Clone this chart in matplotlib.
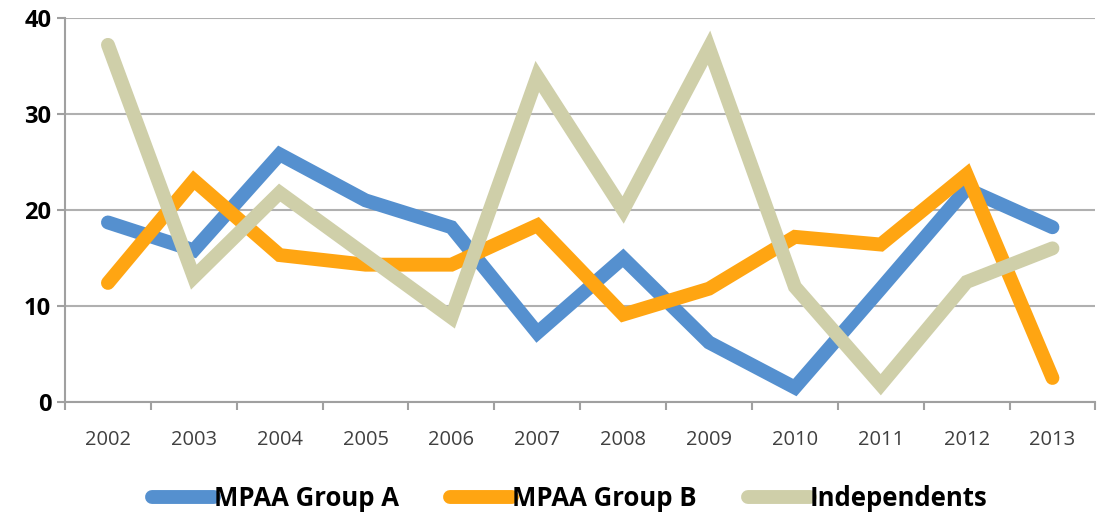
import matplotlib.pyplot as plt
from matplotlib.ticker import NullFormatter

years = ['2002', '2003', '2004', '2005', '2006', '2007', '2008', '2009', '2010', '2011', '2012', '2013']
group_a = [18.7, 15.8, 25.8, 21.0, 18.2, 7.2, 15.0, 6.2, 1.5, 11.8, 22.2, 18.2]
group_b = [12.4, 23.1, 15.3, 14.3, 14.3, 18.4, 9.1, 11.8, 17.2, 16.4, 23.7, 2.5]
independents = [37.2, 13.0, 21.8, 15.3, 8.8, 33.9, 20.0, 36.9, 12.0, 1.8, 12.5, 16.0]

plt.rcParams['font.family'] = ['Open Sans', 'DejaVu Sans']

fig = plt.figure(figsize=(11.02, 5.14), dpi=100)
ax = fig.add_axes([0.059, 0.218, 0.935, 0.747])

x = range(len(years))
ax.plot(x, group_a, color='#5590cf', lw=10, solid_capstyle='round', solid_joinstyle='miter', label='MPAA Group A', zorder=3)
ax.plot(x, group_b, color='#ffa512', lw=10, solid_capstyle='round', solid_joinstyle='miter', label='MPAA Group B', zorder=4)
ax.plot(x, independents, color='#cfcfa9', lw=10, solid_capstyle='round', solid_joinstyle='miter', label='Independents', zorder=5)

ax.set_xlim(-0.5, len(years) - 0.5)
ax.set_ylim(0, 40)
ax.set_yticks([0, 10, 20, 30, 40])
ax.grid(axis='y', color='#b0b0b0', lw=1.5)
ax.set_axisbelow(True)

# category labels centred, tick marks between categories
ax.set_xticks([i - 0.5 for i in range(len(years) + 1)])
ax.xaxis.set_major_formatter(NullFormatter())
ax.set_xticks(list(x), minor=True)
ax.set_xticklabels(years, minor=True, fontsize=14.5, color='#404040')
ax.tick_params(axis='x', which='minor', length=0, pad=20)
ax.tick_params(axis='x', which='major', length=6, color='#a0a0a0', width=1.5)
ax.tick_params(axis='y', length=6, color='#a0a0a0', width=1.5, labelsize=17, pad=4)
for lab in ax.get_yticklabels():
    lab.set_fontweight('bold')

for s in ['top', 'right']:
    ax.spines[s].set_visible(False)
ax.spines['left'].set_color('#a0a0a0')
ax.spines['left'].set_linewidth(1.5)
ax.spines['bottom'].set_color('#a0a0a0')
ax.spines['bottom'].set_linewidth(1.5)

leg = fig.legend(loc='lower center', bbox_to_anchor=(0.517, -0.042), ncol=3, frameon=False,
                 handlelength=2.4, handletextpad=0.0, columnspacing=2.0,
                 prop={'size': 18.5, 'weight': 'bold'})

fig.savefig('out.png', dpi=100)
